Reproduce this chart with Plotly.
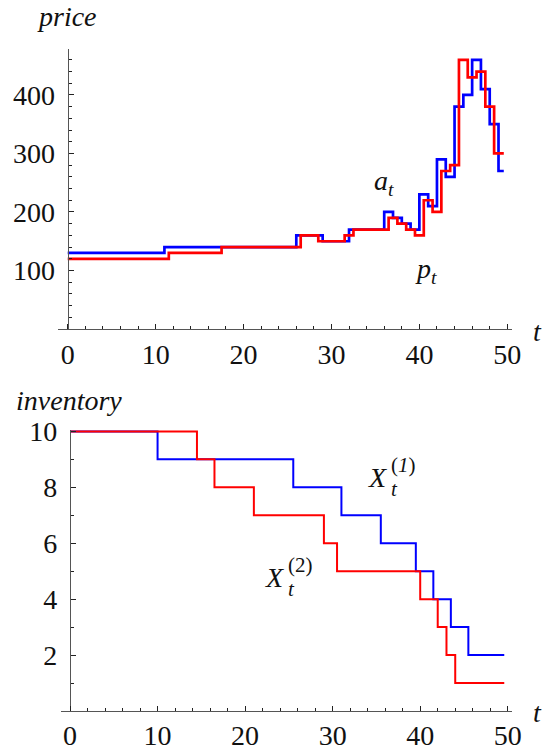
import plotly.graph_objects as go

# ---- data ----
# price chart (step functions, value holds from each x to the next)
ask_t = [0, 11, 26, 29, 32, 36, 37, 38, 39, 40, 41, 42, 43, 44, 45, 46, 47, 48, 49, 49.6]
ask_v = [130, 140, 160, 150, 170, 200, 190, 180, 170, 230, 210, 290, 260, 380, 400, 460, 410, 350, 270, 270]

price_t = [0, 11.5, 17.5, 26.5, 28.5, 31.5, 32.5, 36.5, 37.5, 38.5, 39.5, 40.5, 41.5, 42.5, 43.5, 44.5, 45.5, 46.5, 47.5, 48.5, 49.6]
price_v = [120, 130, 140, 160, 150, 160, 170, 190, 180, 170, 160, 220, 200, 270, 280, 460, 430, 440, 380, 300, 300]

# inventory chart
inv1_t = [0, 10, 25.5, 31, 35.5, 39.5, 41.5, 43.5, 45.5, 49.6]
inv1_v = [10, 9, 8, 7, 6, 5, 4, 3, 2, 2]

inv2_t = [0, 14.5, 16.5, 21, 29, 30.5, 40, 42, 43, 44, 49.6]
inv2_v = [10, 9, 8, 7, 6, 5, 4, 3, 2, 1, 1]

x_ticks = [0, 10, 20, 30, 40, 50]
price_ticks = [100, 200, 300, 400]
inv_ticks = [2, 4, 6, 8, 10]

W, H = 548, 751
FONT = "Liberation Serif, Times New Roman, Times, serif"
BLUE = "#0000ff"
RED = "#ff0000"

def px_x(p):
    return p / W

def px_y(p):
    return (H - p) / H

fig = go.Figure()

fig.add_trace(go.Scatter(x=ask_t, y=ask_v, mode="lines", line=dict(color=BLUE, width=2.7, shape="hv"),
                         xaxis="x", yaxis="y", showlegend=False, hoverinfo="skip"))
fig.add_trace(go.Scatter(x=price_t, y=price_v, mode="lines", line=dict(color=RED, width=2.7, shape="hv"),
                         xaxis="x", yaxis="y", showlegend=False, hoverinfo="skip"))
fig.add_trace(go.Scatter(x=inv1_t, y=inv1_v, mode="lines", line=dict(color=BLUE, width=2, shape="hv"),
                         xaxis="x2", yaxis="y2", showlegend=False, hoverinfo="skip"))
fig.add_trace(go.Scatter(x=inv2_t, y=inv2_v, mode="lines", line=dict(color=RED, width=2, shape="hv"),
                         xaxis="x2", yaxis="y2", showlegend=False, hoverinfo="skip"))

axis_common = dict(
    showgrid=False, zeroline=False, showline=True, linecolor="#555555", linewidth=1.3,
    ticks="inside", ticklen=5, tickwidth=1, tickcolor="#222222", automargin=False,
    tickfont=dict(family=FONT, size=28, color="#111111"),
)

fig.update_layout(
    template="none",
    width=W, height=H,
    margin=dict(l=0, r=0, t=0, b=0, pad=0),
    font=dict(family=FONT, size=28, color="#111111"),
    paper_bgcolor="white", plot_bgcolor="white",
    xaxis=dict(axis_common, domain=[px_x(58.3), px_x(511.7)], range=[-1.07, 50.5],
               anchor="y", tickvals=x_ticks, ticklabelstandoff=0,
               minor=dict(ticks="inside", ticklen=3, dtick=2, tick0=0, tickcolor="#222222", showgrid=False)),
    yaxis=dict(axis_common, domain=[px_y(329), px_y(49.3)], range=[0, 478],
               anchor="free", position=px_x(67.7), tickvals=price_ticks, ticklabelstandoff=7,
               minor=dict(ticks="inside", ticklen=3, dtick=20, tick0=0, tickcolor="#222222", showgrid=False)),
    xaxis2=dict(axis_common, domain=[px_x(61), px_x(511.7)], range=[-1.03, 50.45],
                anchor="y2", tickvals=x_ticks, ticklabelstandoff=-1,
                minor=dict(ticks="inside", ticklen=3, dtick=2, tick0=0, tickcolor="#222222", showgrid=False)),
    yaxis2=dict(axis_common, domain=[px_y(711), px_y(430)], range=[0, 10.05],
                anchor="free", position=px_x(70), tickvals=inv_ticks, ticklabelstandoff=7,
                minor=dict(ticks="inside", ticklen=3, dtick=1, tick0=0, tickcolor="#222222", showgrid=False)),
)

lab_font = dict(family=FONT, size=28, color="#111111")
small_font = dict(family=FONT, size=21, color="#111111")

ann = []
# axis titles
ann.append(dict(text="<i>price</i>", xref="paper", yref="paper", x=px_x(67), y=px_y(16),
                xanchor="center", yanchor="middle", showarrow=False, font=lab_font))
ann.append(dict(text="<i>t</i>", xref="paper", yref="paper", x=px_x(537), y=px_y(331),
                xanchor="center", yanchor="middle", showarrow=False, font=lab_font))
ann.append(dict(text="<i>inventory</i>", xref="paper", yref="paper", x=px_x(69), y=px_y(400),
                xanchor="center", yanchor="middle", showarrow=False, font=lab_font))
ann.append(dict(text="<i>t</i>", xref="paper", yref="paper", x=px_x(537), y=px_y(712),
                xanchor="center", yanchor="middle", showarrow=False, font=lab_font))
# series labels, price chart
ann.append(dict(text="<i>a</i><sub><i>t</i></sub>", xref="x", yref="y", x=34.6, y=250,
                xanchor="left", yanchor="middle", showarrow=False, font=lab_font))
ann.append(dict(text="<i>p</i><sub><i>t</i></sub>", xref="x", yref="y", x=39.3, y=100,
                xanchor="left", yanchor="middle", showarrow=False, font=lab_font))
# series labels, inventory chart (X with stacked sub/superscripts)
for xj, yX, ysup, ysub, sup in [(36.46, 8.36, 8.8, 7.95, "(<i>1</i>)"), (24.7, 4.79, 5.22, 4.38, "(2)")]:
    ann.append(dict(text="<i>X</i>", xref="x2", yref="y2", x=xj, y=yX,
                    xanchor="right", yanchor="middle", showarrow=False, font=lab_font))
    ann.append(dict(text=sup, xref="x2", yref="y2", x=xj, y=ysup,
                    xanchor="left", yanchor="middle", showarrow=False, font=small_font))
    ann.append(dict(text="<i>t</i>", xref="x2", yref="y2", x=xj, y=ysub,
                    xanchor="left", yanchor="middle", showarrow=False, font=small_font))

fig.update_layout(annotations=ann)

fig.write_html("out.html", config={"displayModeBar": False})

# remove the default page margin so the figure sits at the window's top-left corner
with open("out.html", "r", encoding="utf-8") as f:
    html = f.read()
html = html.replace("<head>", "<head><style>html,body{margin:0;padding:0;overflow:hidden;}</style>", 1)
with open("out.html", "w", encoding="utf-8") as f:
    f.write(html)
